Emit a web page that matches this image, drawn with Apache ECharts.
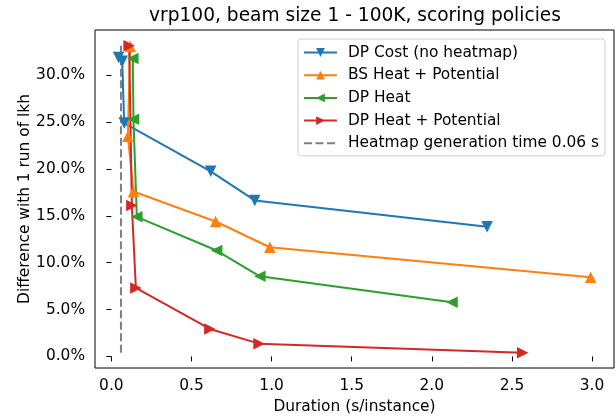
<!DOCTYPE html>
<html>
<head>
<meta charset="utf-8">
<script src="https://cdn.jsdelivr.net/npm/echarts@6/dist/echarts.min.js"></script>
<style>
  html, body { margin: 0; padding: 0; background: #fff; }
  #chart { width: 616px; height: 417px; }
</style>
</head>
<body>
<div id="chart"></div>
<script>
  // beam size 1 -> 100K, one point per beam size
  const costX = [0.045, 0.068, 0.080, 0.620, 0.895, 2.345];
  const costY = [31.9, 31.5, 24.9, 19.75, 16.65, 13.85];

  const bsHeatPotX = [0.118, 0.103, 0.138, 0.651, 0.989, 2.991];
  const bsHeatPotY = [33.1, 23.5, 17.6, 14.4, 11.65, 8.45];

  const dpHeatX = [0.134, 0.138, 0.159, 0.657, 0.927, 2.126];
  const dpHeatY = [31.8, 25.3, 14.9, 11.3, 8.55, 5.77];

  const dpHeatPotX = [0.111, 0.128, 0.153, 0.615, 0.922, 2.567];
  const dpHeatPotY = [33.15, 16.1, 7.3, 2.93, 1.36, 0.38];

  const heatmapTime = 0.06;
  const heatmapY = [0.38, 33.15];

  const xTicks = [0, 0.5, 1.0, 1.5, 2.0, 2.5, 3.0];
  const yTicks = [0, 5, 10, 15, 20, 25, 30];

  const chart = echarts.init(document.getElementById('chart'));
  const font = 'DejaVu Sans';
  const fs = 15.4;

  function pairs(xs, ys) {
    return xs.map((x, i) => [x, ys[i]]);
  }

  function markerSeries(name, xs, ys, color, rotate) {
    return {
      name: name,
      type: 'line',
      data: pairs(xs, ys),
      symbol: 'triangle',
      symbolSize: 11.5,
      symbolRotate: rotate,
      showAllSymbol: true,
      lineStyle: { color: color, width: 2 },
      itemStyle: { color: color },
      emphasis: { disabled: true },
    };
  }

  const option = {
    animation: false,
    title: {
      text: 'vrp100, beam size 1 - 100K, scoring policies',
      left: 355,
      top: 7,
      padding: 0,
      textAlign: 'center',
      textStyle: { fontFamily: font, fontSize: 18.6, fontWeight: 'normal', color: '#000' },
    },
    legend: {
      orient: 'vertical',
      left: 298,
      top: 39,
      padding: [5, 6, 4, 5],
      itemWidth: 33,
      itemHeight: 11,
      itemGap: 5.7,
      backgroundColor: '#fff',
      borderColor: '#d0d0d0',
      borderWidth: 1,
      borderRadius: 3,
      textStyle: { fontFamily: font, fontSize: fs, lineHeight: 17, color: '#000', padding: [0, 0, 0, 6] },
      data: [
        'DP Cost (no heatmap)',
        'BS Heat + Potential',
        'DP Heat',
        'DP Heat + Potential',
        { name: 'Heatmap generation time 0.06 s', itemStyle: { opacity: 0 } },
      ],
    },
    grid: {
      left: 95,
      right: 2,
      top: 30,
      bottom: 49,
      outerBoundsMode: 'none',
      show: true,
      borderColor: '#000',
      borderWidth: 1,
      backgroundColor: 'transparent',
    },
    xAxis: {
      type: 'value',
      min: -0.102,
      max: 3.137,
      name: 'Duration (s/instance)',
      nameLocation: 'middle',
      nameGap: 31,
      nameMoveOverlap: false,
      nameTextStyle: { fontFamily: font, fontSize: fs, color: '#000' },
      axisLine: { show: false },
      splitLine: { show: false },
      axisTick: { show: true, length: 5, lineStyle: { color: '#000' }, customValues: xTicks },
      axisLabel: {
        fontFamily: font, fontSize: fs, color: '#000', margin: 10,
        customValues: xTicks,
        formatter: v => v.toFixed(1),
      },
    },
    yAxis: {
      type: 'value',
      min: -1.24,
      max: 34.84,
      name: 'Difference with 1 run of lkh',
      nameLocation: 'middle',
      nameGap: 63,
      nameRotate: 90,
      nameMoveOverlap: false,
      nameTextStyle: { fontFamily: font, fontSize: fs, color: '#000' },
      axisLine: { show: false },
      splitLine: { show: false },
      axisTick: { show: true, length: 5, lineStyle: { color: '#000' }, customValues: yTicks },
      axisLabel: {
        fontFamily: font, fontSize: fs, color: '#000', margin: 10,
        customValues: yTicks,
        formatter: v => v.toFixed(1) + '%',
      },
    },
    series: [
      markerSeries('DP Cost (no heatmap)', costX, costY, '#1f77b4', 180),
      markerSeries('BS Heat + Potential', bsHeatPotX, bsHeatPotY, '#ff7f0e', 0),
      markerSeries('DP Heat', dpHeatX, dpHeatY, '#2ca02c', 90),
      markerSeries('DP Heat + Potential', dpHeatPotX, dpHeatPotY, '#d62728', -90),
      {
        name: 'Heatmap generation time 0.06 s',
        type: 'line',
        data: heatmapY.map(y => [heatmapTime, y]),
        symbol: 'none',
        lineStyle: { color: '#7f7f7f', width: 2, type: [8, 3.5] },
        itemStyle: { color: '#7f7f7f' },
        emphasis: { disabled: true },
      },
    ],
  };

  chart.setOption(option);
</script>
</body>
</html>
